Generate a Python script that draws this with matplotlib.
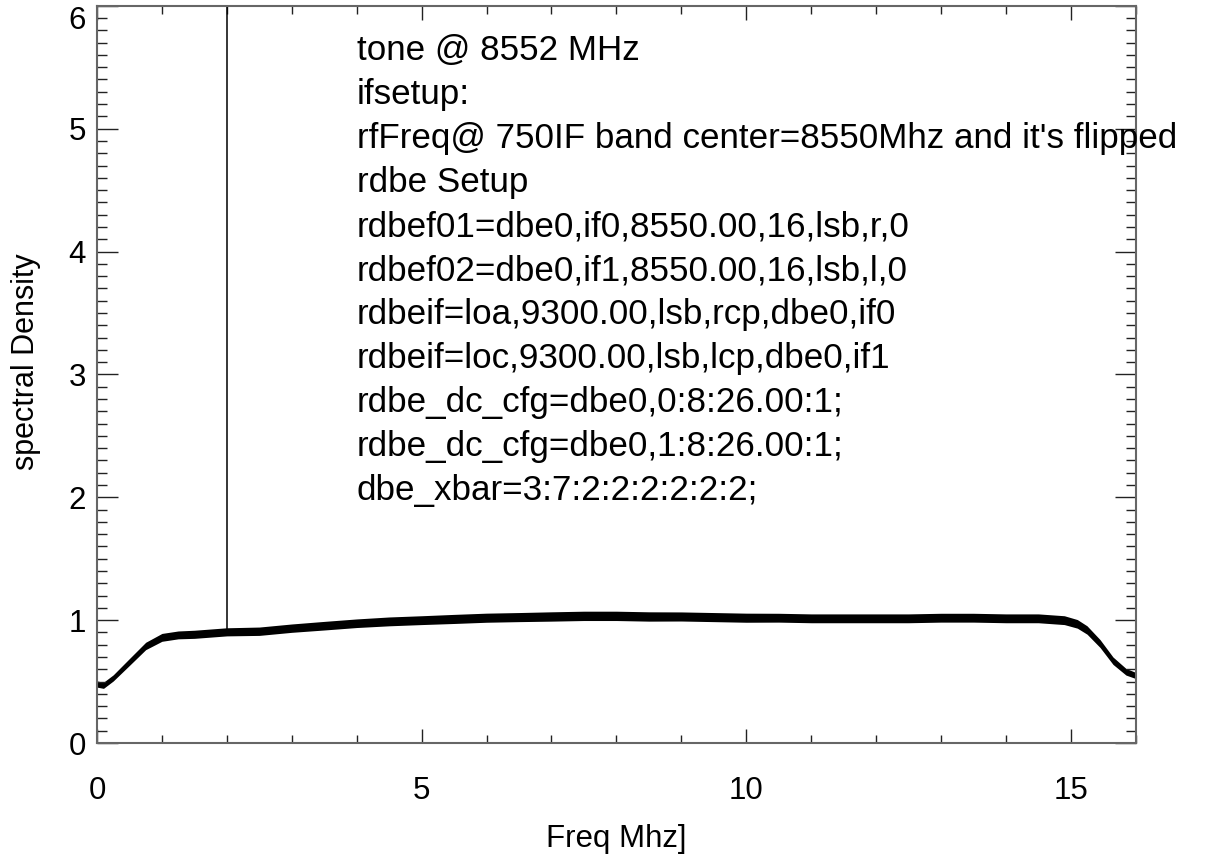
import matplotlib
matplotlib.use("Agg")
import matplotlib.pyplot as plt
from matplotlib.ticker import MultipleLocator
import numpy as np

plt.rcParams['font.family'] = ['Liberation Sans', 'DejaVu Sans']

# spectrum (centre of the noisy trace, and its half-width)
freq = [0.0, 0.1, 0.25, 0.5, 0.75, 1.0, 1.25, 1.5, 2.0, 2.5, 3.0, 3.5, 4.0,
        4.5, 5.0, 5.5, 6.0, 6.5, 7.0, 7.5, 8.0, 8.5, 9.0, 9.5, 10.0, 10.5,
        11.0, 11.5, 12.0, 12.5, 13.0, 13.5, 14.0, 14.5, 14.9, 15.1, 15.25,
        15.45, 15.65, 15.85, 16.0]
density = [0.48, 0.47, 0.53, 0.66, 0.79, 0.86, 0.88, 0.885, 0.905, 0.91,
           0.935, 0.955, 0.975, 0.99, 1.0, 1.01, 1.02, 1.025, 1.03, 1.035,
           1.035, 1.03, 1.03, 1.025, 1.02, 1.02, 1.015, 1.015, 1.015, 1.015,
           1.02, 1.02, 1.015, 1.015, 1.0, 0.97, 0.92, 0.81, 0.67, 0.58, 0.55]
noise = [0.025, 0.025, 0.025, 0.028, 0.03, 0.032, 0.032, 0.033, 0.033, 0.034,
         0.034, 0.035, 0.035, 0.036, 0.036, 0.037, 0.037, 0.037, 0.038, 0.038,
         0.038, 0.038, 0.037, 0.037, 0.037, 0.036, 0.036, 0.036, 0.036, 0.036,
         0.036, 0.036, 0.036, 0.036, 0.036, 0.035, 0.034, 0.032, 0.03, 0.027, 0.025]

tone_freq = 2.0
tone_base = 0.9
tone_peak = 40.0

notes = ["tone @ 8552 MHz",
         "ifsetup:",
         "rfFreq@ 750IF band center=8550Mhz and it's flipped",
         "rdbe Setup",
         "rdbef01=dbe0,if0,8550.00,16,lsb,r,0",
         "rdbef02=dbe0,if1,8550.00,16,lsb,l,0",
         "rdbeif=loa,9300.00,lsb,rcp,dbe0,if0",
         "rdbeif=loc,9300.00,lsb,lcp,dbe0,if1",
         "rdbe_dc_cfg=dbe0,0:8:26.00:1;",
         "rdbe_dc_cfg=dbe0,1:8:26.00:1;",
         "dbe_xbar=3:7:2:2:2:2:2:2;"]

fig = plt.figure(figsize=(12.05, 8.61), dpi=100)
ax = fig.add_axes([0.0805, 0.137, 0.862, 0.8563])

f = np.array(freq)
d = np.array(density)
n = np.array(noise)
ax.fill_between(f, d - n, d + n, color='black', lw=0)
ax.plot(f, d, color='black', lw=1.0)
ax.vlines(tone_freq, tone_base, tone_peak, color='black', lw=1.1)

ax.set_xlim(0, 16)
ax.set_ylim(0, 6.0)
ax.set_xticks([0, 5, 10, 15])
ax.set_yticks([0, 1, 2, 3, 4, 5, 6])
ax.xaxis.set_minor_locator(MultipleLocator(1))
ax.yaxis.set_minor_locator(MultipleLocator(0.1))
ax.tick_params(which='both', direction='in', top=True, right=True,
               color='#222222', width=1.0, labelsize=22.5)
ax.xaxis.set_tick_params(which='major', length=10, pad=23.5)
ax.xaxis.set_tick_params(which='minor', length=5.5)
ax.yaxis.set_tick_params(which='major', length=15, pad=8)
ax.yaxis.set_tick_params(which='minor', length=7.5)
for s in ax.spines.values():
    s.set_color('#666666')
    s.set_linewidth(1.5)
# top label is pushed inside the window, as in the original
ax.yaxis.get_major_ticks()[-1].label1.set_verticalalignment('top')

ax.set_xlabel("Freq Mhz]", fontsize=22.5)
ax.xaxis.set_label_coords(0.5, -0.1407)
ax.xaxis.label.set_va('baseline')
ax.set_ylabel("spectral Density", fontsize=22)
ax.yaxis.set_label_coords(-0.068, 0.517)
ax.yaxis.label.set_va('center')

for i, line in enumerate(notes):
    ax.text(4.0, 5.558 - i * 0.358, line, fontsize=25.2, va='baseline',
            ha='left', clip_on=False)

fig.savefig("out.png", dpi=100)
